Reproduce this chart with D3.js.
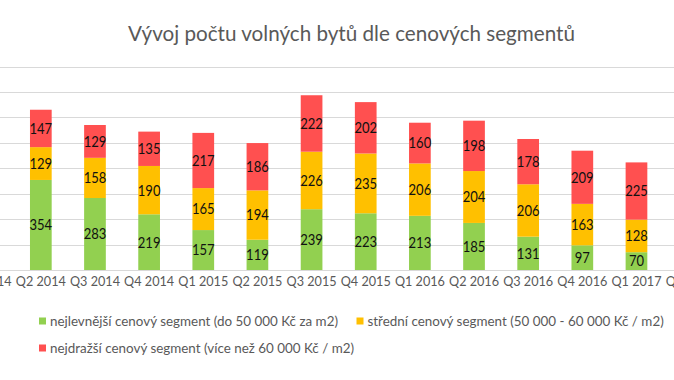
<!DOCTYPE html>
<html><head><meta charset="utf-8">
<script src="https://cdn.jsdelivr.net/npm/d3@7"></script>
<style>body{margin:0;background:#fff}svg{display:block}text{font-family:Lato,"Noto Sans",sans-serif}</style>
</head><body><svg id="c" width="674" height="380"></svg>
<script>
const categories = ["Q1 2014","Q2 2014","Q3 2014","Q4 2014","Q1 2015","Q2 2015","Q3 2015","Q4 2015","Q1 2016","Q2 2016","Q3 2016","Q4 2016","Q1 2017","Q2 2017"];
const barCategories = ["Q2 2014","Q3 2014","Q4 2014","Q1 2015","Q2 2015","Q3 2015","Q4 2015","Q1 2016","Q2 2016","Q3 2016","Q4 2016","Q1 2017"];
const cheapest = [354,283,219,157,119,239,223,213,185,131,97,70];
const middle   = [129,158,190,165,194,226,235,206,204,206,163,128];
const priciest = [147,129,135,217,186,222,202,160,198,178,209,225];
const seriesNames = ["nejlevnější cenový segment (do 50 000 Kč za m2)","střední cenový segment (50 000 - 60 000 Kč / m2)","nejdražší cenový segment (více než 60 000 Kč / m2)"];
const yTicks = [0,100,200,300,400,500,600,700,800];
const title = "Vývoj počtu volných bytů dle cenových segmentů";

const colors = ["#92d050","#ffc000","#ff5050"];
const svg = d3.select("#c");
const W = 674;
const x = d3.scaleBand().domain(categories).range([-40.4, 717.7]);
const y = d3.scaleLinear().domain([0,800]).range([270,66.5]);

// scale a selection horizontally (font substitution for Calibri) by a factor derived from a reference text
function squeeze(sel, factor){
  sel.each(function(){
    const w = this.getComputedTextLength();
    d3.select(this).attr("textLength", w*factor).attr("lengthAdjust","spacingAndGlyphs");
  });
}

const t = svg.append("text").attr("x",351.5).attr("y",41).attr("text-anchor","middle")
  .attr("font-size",22).attr("fill","#595959").text(title);
squeeze(t, 447 / t.node().getComputedTextLength());

svg.append("g").selectAll("line").data(yTicks).join("line")
  .attr("x1",0).attr("x2",W).attr("y1",d=>Math.round(y(d))+0.5).attr("y2",d=>Math.round(y(d))+0.5)
  .attr("stroke","#d9d9d9").attr("stroke-width",1);

const rows = barCategories.map((c,i)=>({cat:c, s0:cheapest[i], s1:middle[i], s2:priciest[i]}));
const stack = d3.stack().keys(["s0","s1","s2"])(rows);
const bw = 21.7;
const cx = c => x(c)+x.bandwidth()/2;
let labelFactor = null;
stack.forEach((layer,li)=>{
  const g = svg.append("g");
  g.selectAll("rect").data(layer).join("rect")
    .attr("x",d=>cx(d.data.cat)-bw/2).attr("width",bw)
    .attr("y",d=>y(d[1])).attr("height",d=>y(d[0])-y(d[1]))
    .attr("fill",colors[li]);
  const lbl = g.selectAll("text").data(layer).join("text")
    .attr("x",d=>cx(d.data.cat))
    .attr("y",d=>(y(d[0])+y(d[1]))/2).attr("dy","0.36em")
    .attr("text-anchor","middle").attr("font-size",15).attr("fill","#111")
    .text(d=>d[1]-d[0]);
  if(labelFactor===null) labelFactor = 22.7 / lbl.node().getComputedTextLength();
  squeeze(lbl, labelFactor);
});

const xAxis = d3.axisBottom(x).tickSize(0).tickPadding(0);
const ax = svg.append("g").attr("transform","translate(0,270)").call(xAxis);
ax.select(".domain").remove();
const xt = ax.selectAll("text").attr("y",16).attr("dy",0).attr("font-size",13).attr("fill","#595959").style("font-family","Lato,'Noto Sans',sans-serif");
squeeze(xt, 50 / xt.nodes()[1].getComputedTextLength());

const legend = [{x:39,y:321,i:0},{x:356.5,y:321,i:1},{x:39,y:348,i:2}];
const lg = svg.append("g").selectAll("g").data(legend).join("g").attr("transform",d=>`translate(${d.x},${d.y})`);
lg.append("rect").attr("x",0).attr("y",-3.5).attr("width",7).attr("height",7).attr("fill",d=>colors[d.i]);
const lt = lg.append("text").attr("x",11).attr("y",0).attr("dy","0.33em").attr("font-size",14).attr("fill","#595959").text(d=>seriesNames[d.i]);
squeeze(lt, 288 / lt.nodes()[0].getComputedTextLength());
</script></body></html>
